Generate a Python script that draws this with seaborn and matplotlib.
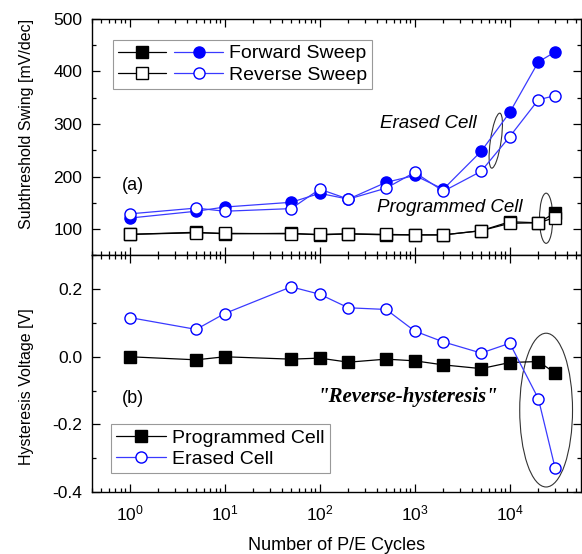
import numpy as np
import pandas as pd
import matplotlib
import matplotlib.pyplot as plt
import seaborn as sns
from matplotlib.patches import Ellipse
from matplotlib.legend_handler import HandlerTuple
from matplotlib.ticker import LogLocator, MultipleLocator, NullFormatter

# P/E cycle counts
cycles = [1, 5, 10, 50, 100, 200, 500, 1000, 2000, 5000, 10000, 20000, 30000]

# (a) subthreshold swing [mV/dec]
prog_fwd = [90, 94, 91, 92, 89, 91, 89, 89, 89, 97, 114, 112, 131]
prog_rev = [90, 93, 92, 91, 90, 91, 90, 89, 89, 97, 111, 112, 122]
erase_fwd = [121, 134, 142, 151, 168, 157, 189, 202, 176, 248, 322, 418, 437]
erase_rev = [129, 140, 134, 139, 176, 157, 178, 208, 172, 210, 276, 346, 354]

# (b) hysteresis voltage [V]
hyst_prog = [0.0, -0.009, 0.0, -0.007, -0.004, -0.016, -0.007, -0.012, -0.024, -0.035, -0.017, -0.014, -0.048]
hyst_erase = [0.116, 0.081, 0.128, 0.207, 0.185, 0.145, 0.140, 0.076, 0.044, 0.011, 0.040, -0.124, -0.329]

sns.set_style("ticks")
plt.rcParams['font.family'] = ['Liberation Sans', 'DejaVu Sans']
plt.rcParams['mathtext.fontset'] = 'custom'
plt.rcParams['mathtext.rm'] = 'Liberation Sans'
for key in ('text.color', 'axes.labelcolor', 'xtick.color', 'ytick.color', 'axes.edgecolor'):
    plt.rcParams[key] = 'black'

BLUE = '#0000ff'
LBLUE = '#3a3aff'

fig, (ax1, ax2) = plt.subplots(2, 1, figsize=(5.82, 5.54), dpi=100, sharex=True)
fig.subplots_adjust(left=0.158, right=0.998, top=0.966, bottom=0.112, hspace=0)

def draw(ax, y, marker, face, edge, line):
    sns.lineplot(x=cycles, y=y, ax=ax, marker=marker, markersize=8,
                 markerfacecolor=face, markeredgecolor=edge, markeredgewidth=1,
                 color=line, linewidth=0.9, sort=False)
    return ax.lines[-1]

# top panel
h_pf = draw(ax1, prog_fwd, 's', 'black', 'black', 'black')
h_ef = draw(ax1, erase_fwd, 'o', BLUE, BLUE, LBLUE)
h_pr = draw(ax1, prog_rev, 's', 'white', 'black', 'black')
h_er = draw(ax1, erase_rev, 'o', 'white', BLUE, LBLUE)

# bottom panel
h_hp = draw(ax2, hyst_prog, 's', 'black', 'black', 'black')
h_he = draw(ax2, hyst_erase, 'o', 'white', BLUE, LBLUE)

ax1.set_xscale('log')
ax1.set_xlim(0.4, 56000)
ax1.set_ylim(50, 500)
ax2.set_ylim(-0.4, 0.3)

ax1.yaxis.set_major_locator(MultipleLocator(100))
ax1.yaxis.set_minor_locator(MultipleLocator(50))
ax2.yaxis.set_major_locator(MultipleLocator(0.2))
ax2.yaxis.set_minor_locator(MultipleLocator(0.1))
ax2.yaxis.set_major_formatter(matplotlib.ticker.FormatStrFormatter('%.1f'))
for ax in (ax1, ax2):
    ax.xaxis.set_major_locator(LogLocator(base=10, numticks=10))
    ax.xaxis.set_minor_locator(LogLocator(base=10, subs=np.arange(2, 10), numticks=10))
    ax.xaxis.set_minor_formatter(NullFormatter())
    ax.tick_params(which='both', direction='in', top=True, right=True,
                   labelsize=12.5, width=0.9, colors='black')
    ax.tick_params(axis='y', pad=7)
    ax.tick_params(axis='x', pad=8)
    ax.tick_params(which='major', length=6)
    ax.tick_params(which='minor', length=3)
    for s in ax.spines.values():
        s.set_linewidth(1.0)
        s.set_color('black')
    ax.set_xlabel('')

ax1.set_ylabel('Subthreshold Swing [mV/dec]', fontsize=11.5)
ax2.set_ylabel('Hysteresis Voltage [V]', fontsize=11.5)
ax1.yaxis.set_label_coords(-0.119, 0.555)
ax2.yaxis.set_label_coords(-0.119, 0.447)
ax2.set_xlabel('Number of P/E Cycles', fontsize=13, labelpad=10)

# legends
leg1 = ax1.legend([(h_pf, h_ef), (h_pr, h_er)], ['Forward Sweep', 'Reverse Sweep'],
                  handler_map={tuple: HandlerTuple(ndivide=None, pad=0.4)},
                  handlelength=5.4, loc='upper left', bbox_to_anchor=(0.043, 0.911),
                  fontsize=14, frameon=True, fancybox=False, edgecolor='#808080',
                  borderpad=0.25, labelspacing=0.2, handletextpad=0.3, borderaxespad=0)
leg1.get_frame().set_linewidth(0.8)
leg2 = ax2.legend([h_hp, h_he], ['Programmed Cell', 'Erased Cell'],
                  handlelength=2.6, loc='lower left', bbox_to_anchor=(0.039, 0.08),
                  fontsize=14, frameon=True, fancybox=False, edgecolor='#808080',
                  borderpad=0.25, labelspacing=0.2, handletextpad=0.3, borderaxespad=0)
leg2.get_frame().set_linewidth(0.8)

# annotations
ax1.text(0.061, 0.297, '(a)', transform=ax1.transAxes, fontsize=13, va='center')
ax1.text(0.589, 0.559, 'Erased Cell', transform=ax1.transAxes, fontsize=13.5,
         style='italic', va='center')
ax1.text(0.583, 0.203, 'Programmed Cell', transform=ax1.transAxes, fontsize=13.5,
         style='italic', va='center')
ax1.add_patch(Ellipse((0.826, 0.485), 0.022, 0.233, angle=-4, transform=ax1.transAxes,
                      fill=False, edgecolor='#333333', linewidth=0.8))
ax1.add_patch(Ellipse((0.929, 0.157), 0.027, 0.212, transform=ax1.transAxes,
                      fill=False, edgecolor='#333333', linewidth=0.8))

ax2.text(0.061, 0.397, '(b)', transform=ax2.transAxes, fontsize=13, va='center')
ax2.text(0.46, 0.40, '"Reverse-hysteresis"', transform=ax2.transAxes, fontsize=15,
         family='Liberation Serif', weight='bold', style='italic', va='center')
ax2.add_patch(Ellipse((0.929, 0.346), 0.108, 0.65, transform=ax2.transAxes,
                      fill=False, edgecolor='#333333', linewidth=0.8))

fig.savefig('out.png', dpi=100)
plt.close(fig)
